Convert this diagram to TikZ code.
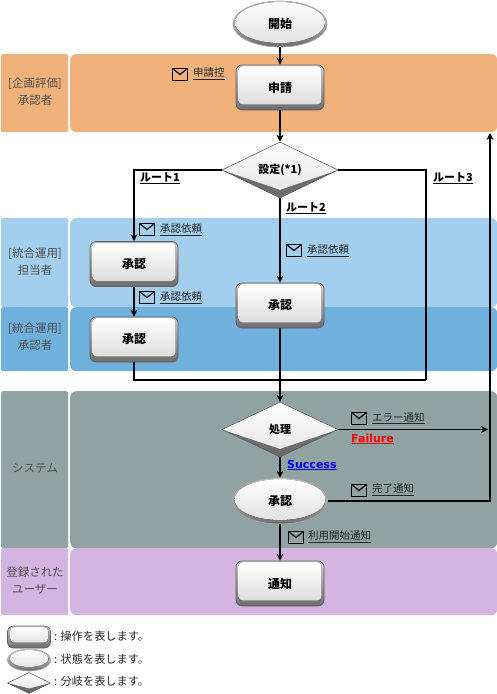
\documentclass[tikz,border=0pt]{standalone}
\usepackage{fontspec}
\setmainfont{Noto Sans CJK JP}
\newfontfamily\latinbold{DejaVu Sans}
\usetikzlibrary{arrows.meta,shapes.geometric}
\definecolor{bandorange}{HTML}{F0B27A}
\definecolor{bandsky}{HTML}{A3CEEE}
\definecolor{bandblue}{HTML}{6FB0DD}
\definecolor{bandgray}{HTML}{90A2A1}
\definecolor{bandpurple}{HTML}{D4B4E1}
\definecolor{lanetext}{HTML}{505050}
\tikzset{
	band/.style={fill=#1, rounded corners=6pt, anchor=north west, inner sep=0pt, minimum width=427pt},
	headcell/.style={fill=#1, rounded corners=1.5pt, anchor=north west, inner sep=0pt, minimum width=67pt},
	lanelabel/.style={text=lanetext, align=center, font=\fontsize{11.5}{17}\selectfont},
	flow/.style={line width=1.8pt, draw=black},
	arrowflow/.style={flow, -{Stealth[length=7pt,width=7pt]}},
	stepbox/.style 2 args={draw=gray!75!black, line width=0.7pt, rounded corners=6pt, top color=gray!40, bottom color=gray!85!black,
		minimum width=#1pt, minimum height=#2pt, inner sep=0pt, font=\fontsize{12}{14}\bfseries,
		path picture={\fill[rounded corners=4pt, top color=white, bottom color=gray!30]
			([xshift=2.5pt,yshift=5.5pt]path picture bounding box.south west) rectangle
			([xshift=-2.5pt,yshift=-1pt]path picture bounding box.north east);}},
	statebox/.style 2 args={draw=gray!70, line width=0.7pt, ellipse, top color=gray!25, bottom color=gray!85!black,
		minimum width=#1pt, minimum height=#2pt, inner sep=0pt, font=\fontsize{12}{14}\bfseries,
		path picture={\fill[top color=white, bottom color=gray!25]
			([yshift=1.5pt]path picture bounding box.center) ellipse[x radius=#1/2-2, y radius=#2/2-2.5];}},
	branchbox/.style n args={3}{draw=gray!70!black, line width=0.5pt, diamond, fill=gray!85!black,
		minimum width=#1pt, minimum height=#2pt, inner sep=0pt, font=\fontsize{11}{13}\bfseries,
		path picture={\fill[top color=white, bottom color=gray!22]
			(path picture bounding box.north) -- (path picture bounding box.west) --
			([yshift=#3pt]path picture bounding box.south) -- (path picture bounding box.east) -- cycle;}},
	mailicon/.style={draw=black, line width=1.6pt, minimum width=15pt, minimum height=12pt, inner sep=0pt,
		path picture={\draw[line width=1.2pt] (path picture bounding box.north west) --
			(path picture bounding box.center) -- (path picture bounding box.north east);}},
	maillabel/.style={anchor=west, inner sep=0pt, text=black!85, font=\fontsize{10.5}{12}\selectfont},
	routelabel/.style={anchor=west, inner sep=0pt, font=\fontsize{11}{13}\bfseries},
	resultlabel/.style={anchor=west, inner sep=0pt, font=\fontsize{11}{13}\latinbold\bfseries},
	legendtext/.style={anchor=west, inner sep=0pt, text=black!85, font=\fontsize{11.2}{13}\selectfont}
}
\begin{document}
\begin{tikzpicture}[x=1pt, y=-1pt]
	\useasboundingbox (0,0) rectangle (497,694);

	% 泳道背景
	\node[headcell=bandorange, minimum height=78pt] (headplan) at (1,54) {};
	\node[band=bandorange, minimum height=78pt] (laneplan) at (70,54) {};
	\node[headcell=bandsky, minimum height=89pt] (headops) at (1,218) {};
	\node[band=bandsky, minimum height=89pt] (laneops) at (70,218) {};
	\node[headcell=bandblue, minimum height=64pt] (headappr) at (1,307) {};
	\node[band=bandblue, minimum height=64pt] (laneappr) at (70,307) {};
	\node[headcell=bandgray, minimum height=157pt] (headsys) at (1,391) {};
	\node[band=bandgray, minimum height=157pt] (lanesys) at (70,391) {};
	\node[headcell=bandpurple, minimum height=67pt] (headuser) at (1,548) {};
	\node[band=bandpurple, minimum height=67pt] (laneuser) at (70,548) {};

	% 泳道标题
	\node[lanelabel] (labelplan) at (35,92) {[企画評価]\\承認者};
	\node[lanelabel] (labelops) at (35,262) {[統合運用]\\担当者};
	\node[lanelabel] (labelappr) at (35,337) {[統合運用]\\承認者};
	\node[lanelabel] (labelsys) at (35,468) {システム};
	\node[lanelabel] (labeluser) at (35,581) {登録された\\ユーザー};

	% 流程节点
	\node[statebox={94}{46}] (start) at (280,24) {開始};
	\node[stepbox={88}{45}] (apply) at (280,87.5) {申請};
	\node[branchbox={116}{56}{8}] (setting) at (280,170) {\raisebox{3pt}{設定(*1)}};
	\node[stepbox={88}{45}] (approveA) at (134,264) {承認};
	\node[stepbox={88}{45}] (approveB) at (134,339.5) {承認};
	\node[stepbox={88}{45}] (approveC) at (280,305.5) {承認};
	\node[branchbox={116}{55}{8}] (process) at (280,429.5) {処理};
	\node[statebox={95}{46}] (approveD) at (280,501) {承認};
	\node[stepbox={88}{45}] (notice) at (280,583.5) {通知};

	% 连接线的转折点与自由端
	\coordinate (mergeturn) at (426,380);
	\coordinate (failend) at (488,429.5);
	\coordinate (backend) at (490,133);

	% 连接线
	\draw[arrowflow] (start) -- (apply);
	\draw[arrowflow] (apply) -- (setting);
	\draw[arrowflow] (setting.west) -| (approveA.north);
	\draw[arrowflow] (approveA) -- (approveB);
	\draw[arrowflow] (setting) -- (approveC);
	\draw[flow] (setting.east) -| (mergeturn);
	\draw[flow] (approveB.south) |- (mergeturn);
	\draw[arrowflow] (approveC) -- (process);
	\draw[arrowflow] (process.east) -- (failend);
	\draw[arrowflow] (process) -- (approveD);
	\draw[arrowflow] (approveD.east) -| (backend);
	\draw[arrowflow] (approveD) -- (notice);

	% 路线与结果标注
	\node[routelabel] (routeA) at (140,178) {\underline{ルート1}};
	\node[routelabel] (routeB) at (286,208) {\underline{ルート2}};
	\node[routelabel] (routeC) at (433,178) {\underline{ルート3}};
	\node[resultlabel, text=red] (failure) at (351,439) {\underline{Failure}};
	\node[resultlabel, text=blue] (success) at (287,465) {\underline{Success}};

	% 邮件标注
	\node[mailicon] (mailapply) at (180,74.5) {};
	\node[maillabel] (textapply) at (193,74) {\underline{申請控}};
	\node[mailicon] (mailA) at (147,229.5) {};
	\node[maillabel] (textA) at (160,229.5) {\underline{承認依頼}};
	\node[mailicon] (mailB) at (147,297.5) {};
	\node[maillabel] (textB) at (160,297.5) {\underline{承認依頼}};
	\node[mailicon] (mailC) at (294,250.5) {};
	\node[maillabel] (textC) at (307,250.5) {\underline{承認依頼}};
	\node[mailicon] (mailerror) at (359,418.5) {};
	\node[maillabel] (texterror) at (372,418) {\underline{エラー通知}};
	\node[mailicon] (maildone) at (359,490.5) {};
	\node[maillabel] (textdone) at (372,490) {\underline{完了通知}};
	\node[mailicon] (mailuser) at (296,537.5) {};
	\node[maillabel] (textuser) at (308,537) {\underline{利用開始通知}};

	% 图例
	\node[stepbox={43}{22}] (legendstep) at (29,637) {};
	\node[statebox={43}{22}] (legendstate) at (29,660) {};
	\node[branchbox={43}{21}{5}] (legendbranch) at (29,683) {};
	\node[legendtext] (textstep) at (54,636) {: 操作を表します。};
	\node[legendtext] (textstate) at (54,659) {: 状態を表します。};
	\node[legendtext] (textbranch) at (54,681) {: 分岐を表します。};
\end{tikzpicture}
\end{document}
